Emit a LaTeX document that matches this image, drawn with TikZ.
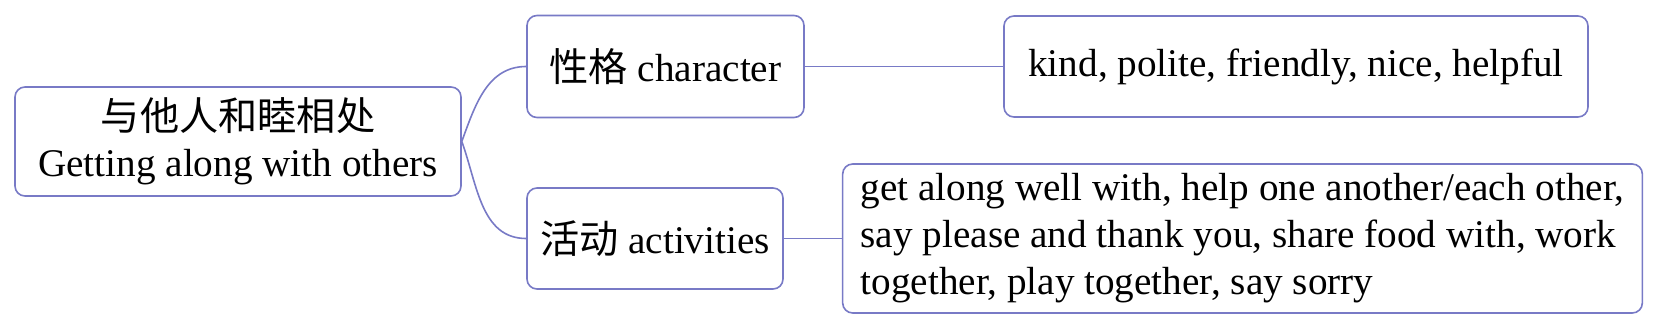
\documentclass[tikz,border=0pt]{standalone}
\usepackage{fontspec}
\setmainfont{Liberation Serif}
\newfontfamily\cjk{Noto Sans CJK SC}
\usepackage{xcolor}
\usetikzlibrary{positioning}
\definecolor{linkblue}{RGB}{120,122,198}
\tikzset{
    topic/.style={draw=linkblue, line width=0.8pt, rounded corners=5pt,
        align=center, inner sep=0pt, font=\fontsize{19.6}{23}\selectfont},
    link/.style={draw=linkblue, line width=0.8pt}
}

\begin{document}
\begin{tikzpicture}[x=0.5pt, y=0.5pt]
    \useasboundingbox (0,0) rectangle (1665,323);

    % 中心主题
    \node[topic, minimum width=223pt, minimum height=54.5pt] (root) at (238,181.5)
        {{\cjk 与他人和睦相处}\\Getting along with others};

    % 分支
    \node[topic, minimum width=138.5pt, minimum height=51pt] (character) at (665.5,256.5)
        {{\cjk 性格} character};
    \node[topic, minimum width=128pt, minimum height=50.5pt] (activities) at (655,84.5)
        {{\cjk 活动} activities};

    % 内容
    \node[topic, minimum width=292pt, minimum height=50.5pt] (kind) at (1296,256.5)
        {kind, polite, friendly, nice, helpful};
    \node[topic, inner xsep=9pt, minimum height=74.5pt, align=left,
        font=\fontsize{19.6}{23.5}\selectfont] (details) at (1242.5,84.5)
        {get along well with, help one another/each other,\\
         say please and thank you, share food with, work\\
         together, play together, say sorry};

    % 连线
    \draw[link] (root.east) to[out=70, in=180] (character.west);
    \draw[link] (root.east) to[out=-70, in=180] (activities.west);
    \draw[link] (character.east) -- (kind.west);
    \draw[link] (activities.east) -- (details.west);
\end{tikzpicture}
\end{document}
